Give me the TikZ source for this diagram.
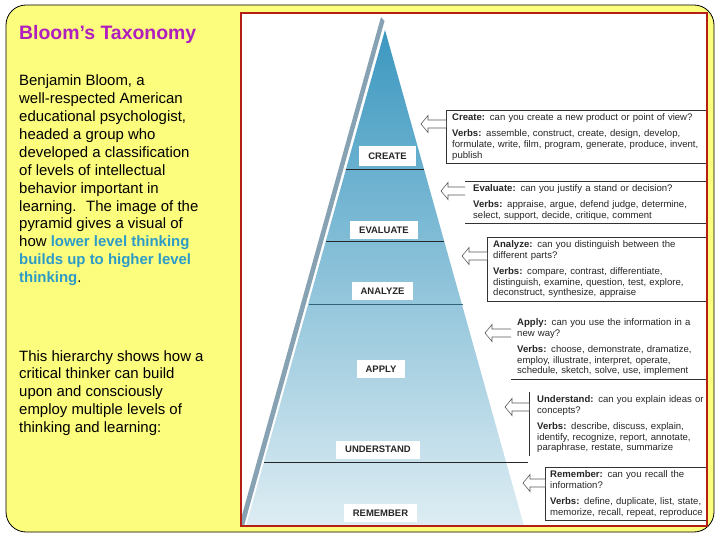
\documentclass[tikz,border=0pt]{standalone}
\usepackage{fontspec}
\setmainfont{Liberation Sans}

\definecolor{slideyellow}{RGB}{252,252,125}
\definecolor{titlepurple}{RGB}{175,30,190}
\definecolor{keyblue}{RGB}{45,155,200}
\definecolor{framered}{RGB}{180,30,20}
\definecolor{pyrtop}{RGB}{60,152,192}
\definecolor{pyrbottom}{RGB}{222,237,243}
\definecolor{pyrshadow}{RGB}{135,162,178}
\definecolor{pyrline}{RGB}{50,100,120}

\tikzset{
  levelbox/.style={fill=white, text=black!85, font=\bfseries\fontsize{9.5}{11}\selectfont,
    inner xsep=9bp, inner ysep=0pt, minimum height=18bp},
  infobox/.style={anchor=north west, align=left, text width=262bp, text=black!85,
    font=\fontsize{9.6}{11}\selectfont, inner xsep=6bp, inner ysep=3bp},
  divider/.style={line width=0.8bp, draw=black!85},
  arrowline/.style={draw=black!65, line width=0.6bp, fill=white},
  pics/backarrow/.style={code={
    \draw[arrowline] (0,-4) -- (-#1,-4) -- (-#1,-8.5) -- (-#1-7,0) -- (-#1,8.5) -- (-#1,4) -- (0,4);
  }}
}

\begin{document}
\begin{tikzpicture}[x=1bp, y=-1bp]
  \useasboundingbox (0,0) rectangle (720,540);

  % Slide background
  \filldraw[fill=slideyellow, draw=black, line width=0.8bp, rounded corners=20bp] (6,5) rectangle (714,532);

  % Text column
  \node[anchor=base west, inner sep=0pt, text=titlepurple, font=\bfseries\fontsize{19.5}{22}\selectfont]
    (heading) at (19,40) {Bloom’s Taxonomy};
  \node[anchor=north west, inner sep=0pt, align=left, font=\fontsize{15}{18}\selectfont] (intro) at (19,74.5)
    {Benjamin Bloom, a\\
     well-respected American\\
     educational psychologist,\\
     headed a group who\\
     developed a classification\\
     of levels of intellectual\\
     behavior important in\\
     learning.~ The image of the\\
     pyramid gives a visual of\\
     how \textcolor{keyblue}{\bfseries lower level thinking}\\
     \textcolor{keyblue}{\bfseries builds up to higher level}\\
     \textcolor{keyblue}{\bfseries thinking}.};
  \node[anchor=north west, inner sep=0pt, align=left, font=\fontsize{15}{18}\selectfont] (hierarchy) at (19,350)
    {This hierarchy shows how a\\
     critical thinker can build\\
     upon and consciously\\
     employ multiple levels of\\
     thinking and learning:};

  % Picture panel
  \fill[white] (241,13) rectangle (707,526);
  \begin{scope}
    \clip (241,13) rectangle (707,526);

    % Pyramid
    \fill[pyrshadow] (381,17) -- (384.5,21) -- (244,526) -- (239,526) -- cycle;
    \shade[top color=pyrtop, bottom color=pyrbottom] (385,30) -- (524,526) -- (246,526) -- cycle;

    % Level dividers
    \draw[divider] (346,169) -- (424,169);
    \draw[divider] (326,241) -- (444,241);
    \draw[divider, draw=pyrline] (309,304) -- (463,304);
    \draw[divider] (264,462) -- (528,462);

    % Level labels
    \node[levelbox, minimum height=20bp] (create) at (387.5,156) {CREATE};
    \node[levelbox] (evaluate) at (384,230) {EVALUATE};
    \node[levelbox] (analyze) at (382.5,291) {ANALYZE};
    \node[levelbox] (apply) at (381,369) {APPLY};
    \node[levelbox] (understand) at (378,449.5) {UNDERSTAND};
    \node[levelbox] (remember) at (380.5,513) {REMEMBER};

    % Question boxes
    \node[infobox, draw=black!80, fill=white] (createq) at (446,110)
      {\textbf{Create:} can you create a new product or point of view?\\[5bp]
       \textbf{Verbs:} assemble, construct, create, design, develop,\\
       formulate, write, film, program, generate, produce, invent,\\
       publish};
    \node[infobox, inner xsep=8bp] (evaluateq) at (465,181)
      {\textbf{Evaluate:} can you justify a stand or decision?\\[5bp]
       \textbf{Verbs:} appraise, argue, defend judge, determine,\\
       select, support, decide, critique, comment};
    \draw[black!80] (evaluateq.north west) -- (evaluateq.north east);
    \draw[black!80] (evaluateq.south west) -- (evaluateq.south east);
    \node[infobox, draw=black!80, fill=white] (analyzeq) at (487,237)
      {\textbf{Analyze:} can you distinguish between the\\
       different parts?\\[5bp]
       \textbf{Verbs:} compare, contrast, differentiate,\\
       distinguish, examine, question, test, explore,\\
       deconstruct, synthesize, appraise};
    \node[infobox] (applyq) at (511,315)
      {\textbf{Apply:} can you use the information in a\\
       new way?\\[5bp]
       \textbf{Verbs:} choose, demonstrate, dramatize,\\
       employ, illustrate, interpret, operate,\\
       schedule, sketch, solve, use, implement};
    \draw[black!80] (applyq.south west) -- (applyq.south east);
    \node[infobox, inner xsep=8bp] (understandq) at (529,392)
      {\textbf{Understand:} can you explain ideas or\\
       concepts?\\[5bp]
       \textbf{Verbs:} describe, discuss, explain,\\
       identify, recognize, report, annotate,\\
       paraphrase, restate, summarize};
    \draw[black!80] (understandq.north west) -- (understandq.south west);
    \node[infobox, draw=black!80, fill=white, inner xsep=5bp] (rememberq) at (545,467)
      {\textbf{Remember:} can you recall the\\
       information?\\[5bp]
       \textbf{Verbs:} define, duplicate, list, state,\\
       memorize, recall, repeat, reproduce};

    % Arrows back to the pyramid
    \pic at (createq.west |- 0,124) {backarrow=18};
    \pic at (evaluateq.west |- 0,191) {backarrow=17};
    \pic at (analyzeq.west |- 0,256) {backarrow=18};
    \pic at (applyq.west |- 0,333) {backarrow=19};
    \pic at (understandq.west |- 0,407) {backarrow=17};
    \pic at (rememberq.west |- 0,483) {backarrow=15};
  \end{scope}
  \draw[framered, line width=2bp] (241,13) rectangle (707,526);
\end{tikzpicture}
\end{document}
